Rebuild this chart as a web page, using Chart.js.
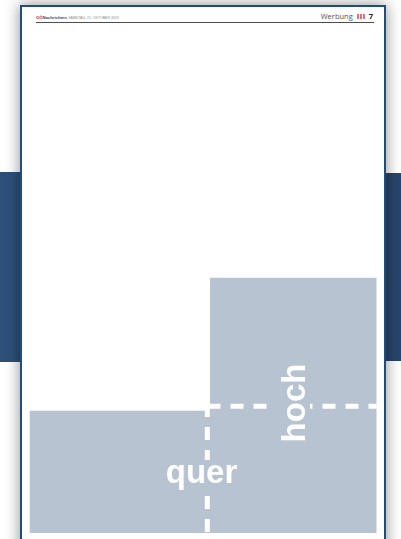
<!DOCTYPE html>
<html>
<head>
<meta charset="utf-8">
<script src="https://cdn.jsdelivr.net/npm/chart.js@4.4.1/dist/chart.umd.min.js"></script>
<style>
    html, body { margin: 0; padding: 0; width: 401px; height: 539px; overflow: hidden; background: #fff; }
    #bandL { position: absolute; left: 0; top: 172px; width: 22px; height: 190px; background: #2d5079; }
    #bandR { position: absolute; left: 384px; top: 173px; width: 17px; height: 188px; background: #27466b; }
    #page {
        position: absolute; left: 20px; top: 5px; width: 362px; height: 560px;
        border: 2px solid #1d4e80; background: #fff;
        box-shadow: 0 0 14px rgba(0, 0, 0, 0.45);
    }
    .hdr { position: absolute; white-space: nowrap; }
    #hdrLeft { left: 36px; top: 15px; font: bold 4.2px "Liberation Sans", Arial, sans-serif; line-height: 5px; }
    #hdrLeft .oo { color: #d0101e; }
    #hdrLeft .nn { color: #1b4f8a; }
    #hdrLeft .date { color: #8a8a8a; font-weight: normal; font-size: 3.5px; margin-left: 1.5px; }
    #hdrRight { right: 28px; top: 11px; font: 7.5px "Open Sans", sans-serif; color: #555; line-height: 10px; }
    #hdrRight .bars { color: #d0101e; font-weight: bold; margin: 0 3px 0 4px; letter-spacing: 0.5px; }
    #hdrRight .num { color: #222; font-weight: bold; }
    #rule { position: absolute; left: 36px; top: 21.5px; width: 338px; height: 1.3px; background: #4d4d4d; }
    #chart { position: absolute; left: 0; top: 0; }
</style>
</head>
<body>
<div id="bandL"></div>
<div id="bandR"></div>
<div id="page"></div>
<div class="hdr" id="hdrLeft"><span class="oo">OÖ</span><span class="nn">Nachrichten</span><span class="date">SAMSTAG, 21. OKTOBER 2023</span></div>
<div class="hdr" id="hdrRight">Werbung<span class="bars">III</span><span class="num">7</span></div>
<div id="rule"></div>
<canvas id="chart" width="401" height="539"></canvas>
<script>
const areaColor = '#b7c3d1';

// ad area outline (page coordinates, y grows downward)
const shapeX = [29.5, 210, 210, 376.7];
const shapeTop = [410.7, 410.7, 277.7, 277.7];
const shapeBottom = 533;

// dashed cut lines
const cutHX = [207.5, 376.7];
const cutHY = [406.3, 406.3];
const cutVX = [207.3, 207.3];
const cutVY = [404, 539];

// format labels
const labels = ['quer', 'hoch'];
const labelX = [201.5, 305];
const labelY = [483, 403];
const labelAngle = [0, -90];

const toPoints = (xs, ys) => xs.map((x, i) => ({ x: x, y: ys[i] }));

// white labels, the cut line is left open behind them
const labelPlugin = {
    id: 'formatLabels',
    afterDatasetsDraw(chart) {
        const ctx = chart.ctx;
        const sx = chart.scales.x, sy = chart.scales.y;
        ctx.save();
        ctx.font = 'bold 33px "Liberation Sans", Arial, sans-serif';
        ctx.textAlign = 'center';
        ctx.textBaseline = 'alphabetic';
        labels.forEach((txt, i) => {
            const m = ctx.measureText(txt);
            const pad = 5;
            ctx.save();
            ctx.translate(sx.getPixelForValue(labelX[i]), sy.getPixelForValue(labelY[i]));
            ctx.rotate(labelAngle[i] * Math.PI / 180);
            ctx.fillStyle = areaColor;
            ctx.fillRect(-m.width / 2 - pad, -m.actualBoundingBoxAscent - pad,
                m.width + pad * 2, m.actualBoundingBoxAscent + m.actualBoundingBoxDescent + pad * 2);
            ctx.fillStyle = '#ffffff';
            ctx.fillText(txt, 0, 0);
            ctx.restore();
        });
        ctx.restore();
    }
};

new Chart(document.getElementById('chart'), {
    type: 'scatter',
    data: {
        datasets: [
            {
                data: toPoints(shapeX, shapeTop),
                order: 2, // keep the grey area underneath the cut lines
                showLine: true,
                borderWidth: 0,
                borderColor: 'transparent',
                backgroundColor: areaColor,
                fill: { value: shapeBottom },
                pointRadius: 0,
                tension: 0
            },
            {
                data: toPoints(cutHX, cutHY),
                order: 0,
                showLine: true,
                borderColor: '#ffffff',
                borderWidth: 5,
                borderDash: [13, 10],
                pointRadius: 0
            },
            {
                data: toPoints(cutVX, cutVY),
                order: 0,
                showLine: true,
                borderColor: '#ffffff',
                borderWidth: 5,
                borderDash: [13, 10],
                pointRadius: 0
            }
        ]
    },
    options: {
        responsive: false,
        animation: false,
        events: [],
        layout: { padding: 0, autoPadding: false },
        plugins: { legend: { display: false }, tooltip: { enabled: false } },
        scales: {
            x: { type: 'linear', min: 0, max: 401, display: false },
            y: { type: 'linear', min: 0, max: 539, reverse: true, display: false }
        }
    },
    plugins: [labelPlugin]
});
</script>
</body>
</html>
